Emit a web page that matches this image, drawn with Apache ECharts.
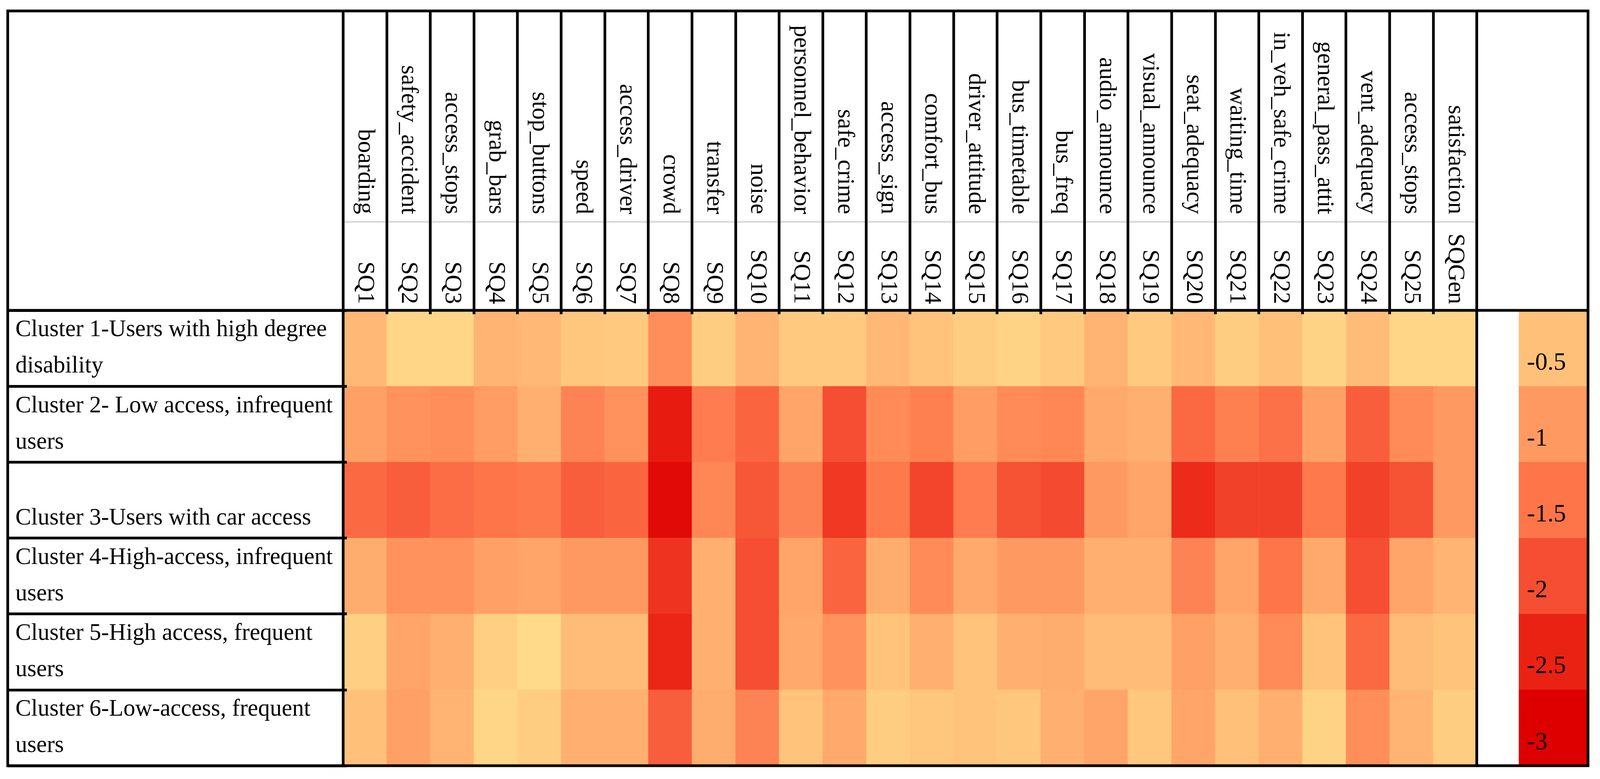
<!DOCTYPE html>
<html><head><meta charset="utf-8">
<script src="https://cdn.jsdelivr.net/npm/echarts@6/dist/echarts.min.js"></script>
<style>html,body{margin:0;padding:0;background:#fff;overflow:hidden}#c{position:absolute;left:0;top:0}</style>
</head><body><div id="c"></div>
<script>
// ---- data ----
const sqCodes = ['SQ1','SQ2','SQ3','SQ4','SQ5','SQ6','SQ7','SQ8','SQ9','SQ10','SQ11','SQ12','SQ13','SQ14','SQ15','SQ16','SQ17','SQ18','SQ19','SQ20','SQ21','SQ22','SQ23','SQ24','SQ25','SQGen'];
const sqNames = ['boarding','safety_accident','access_stops','grab_bars','stop_buttons','speed','access_driver','crowd','transfer','noise','personnel_behavior','safe_crime','access_sign','comfort_bus','driver_attitude','bus_timetable','bus_freq','audio_announce','visual_announce','seat_adequacy','waiting_time','in_veh_safe_crime','general_pass_attit','vent_adequacy','access_stops','satisfaction'];
const clusterLabels = [
  'Cluster 1-Users with high degree\ndisability',
  'Cluster 2- Low access, infrequent\nusers',
  'Cluster 3-Users with car access',
  'Cluster 4-High-access, infrequent\nusers',
  'Cluster 5-High access, frequent\nusers',
  'Cluster 6-Low-access, frequent\nusers'
];
const cluster1 = [-0.6,-0.15,-0.15,-0.65,-0.6,-0.4,-0.35,-1.15,-0.3,-0.65,-0.35,-0.35,-0.6,-0.45,-0.3,-0.2,-0.35,-0.65,-0.35,-0.6,-0.3,-0.5,-0.2,-0.55,-0.15,-0.15];
const cluster2 = [-0.9,-1.1,-1.15,-0.95,-0.7,-1.3,-1.1,-2.6,-1.4,-1.7,-0.85,-2.0,-1.2,-1.35,-0.95,-1.2,-1.25,-0.8,-0.7,-1.65,-1.35,-1.55,-0.9,-1.8,-1.2,-1.0];
const cluster3 = [-1.65,-1.8,-1.6,-1.5,-1.45,-1.8,-1.7,-2.85,-1.25,-1.9,-1.3,-2.25,-1.45,-2.1,-1.4,-1.95,-2.05,-1.0,-0.85,-2.4,-2.15,-2.15,-1.45,-2.15,-1.95,-1.0];
const cluster4 = [-0.75,-1.1,-1.1,-0.9,-0.85,-1.0,-1.0,-2.3,-0.7,-2.0,-0.85,-1.7,-0.75,-1.2,-0.8,-1.0,-1.0,-0.7,-0.7,-1.3,-0.85,-1.5,-0.8,-2.0,-0.85,-0.65];
const cluster5 = [-0.25,-0.85,-0.7,-0.25,-0.1,-0.55,-0.55,-2.45,-0.7,-2.0,-0.8,-1.1,-0.45,-0.7,-0.45,-0.7,-0.75,-0.55,-0.55,-0.9,-0.7,-1.2,-0.45,-1.65,-0.55,-0.45];
const cluster6 = [-0.5,-0.9,-0.65,-0.15,-0.3,-0.7,-0.7,-1.8,-0.75,-1.3,-0.45,-0.8,-0.3,-0.4,-0.45,-0.4,-0.7,-0.85,-0.4,-0.85,-0.5,-0.7,-0.2,-1.15,-0.65,-0.3];
const legendValues = [-0.5,-1,-1.5,-2,-2.5,-3];
const scaleColors = ['#DE0000','#EA2214','#F54E32','#FE754A','#FF9962','#FFC07A','#FFE08E'];

// ---- layout (reference pixel space 4142 x 1993, scaled to the viewport) ----
const REF_W = 4142, REF_H = 1993;
const W = window.innerWidth || REF_W, H = window.innerHeight || REF_H;
const sx = W / REF_W, sy = H / REF_H, s = Math.min(sx, sy);
const X = v => v * sx, Y = v => v * sy, F = v => v * s;
const tL = X(20), tT = Y(28), tR = X(4111), tB = Y(1959);
const headB = Y(794), dataL = X(888), dataR = X(3823), legL = X(3932);
const LW = F(7);
const FONT = "'Liberation Serif', 'Times New Roman', serif";

const el = document.getElementById('c');
el.style.width = W + 'px'; el.style.height = H + 'px';

const rows = [cluster1, cluster2, cluster3, cluster4, cluster5, cluster6];
const heat = [];
rows.forEach((r, yi) => r.forEach((v, xi) => heat.push([xi, yi, v])));
const legendData = legendValues.map((v, i) => [0, i, v]);

const chart = echarts.init(el, null, {width: W, height: H, renderer: 'canvas'});
const black = {color: '#000', width: LW};
const grid0 = {left: dataL, top: headB, width: dataR - dataL, height: tB - headB, outerBoundsMode: 'none', containLabel: false};
const grid1 = {left: legL, top: headB, width: tR - legL, height: tB - headB, outerBoundsMode: 'none', containLabel: false};
const headLabel = m => ({show: true, interval: 0, rotate: 90, margin: Y(m), fontSize: F(62), fontFamily: FONT, color: '#000', padding: [0, 0, F(18), 0]});

chart.setOption({
  backgroundColor: '#fff',
  animation: false,
  grid: [grid0, grid1],
  visualMap: {
    type: 'continuous', show: false, min: -3, max: 0, dimension: 2,
    seriesIndex: [0, 1], inRange: {color: scaleColors}
  },
  xAxis: [
    {
      type: 'category', data: sqCodes, position: 'top', gridIndex: 0, z: 6,
      axisLine: {show: false},
      axisTick: {show: true, interval: 0, length: headB - tT, lineStyle: black},
      axisLabel: headLabel(16), splitLine: {show: false}
    },
    {
      type: 'category', data: sqNames, position: 'top', gridIndex: 0, z: 6,
      axisLine: {show: false}, axisTick: {show: false},
      axisLabel: headLabel(246), splitLine: {show: false}
    },
    {
      type: 'category', data: sqCodes, position: 'top', gridIndex: 0, offset: Y(227), z: 1,
      axisLine: {show: true, lineStyle: {color: '#dcdcdc', width: F(5)}},
      axisTick: {show: false}, axisLabel: {show: false}, splitLine: {show: false}
    },
    {
      type: 'category', data: sqCodes, position: 'top', gridIndex: 0, z: 6,
      axisLine: {show: false},
      axisTick: {show: true, interval: 0, inside: true, length: F(10), lineStyle: black},
      axisLabel: {show: false}, splitLine: {show: false}
    },
    {type: 'category', data: ['scale'], gridIndex: 1, show: false}
  ],
  yAxis: [
    {
      type: 'category', data: clusterLabels, inverse: true, position: 'left', gridIndex: 0, z: 6,
      axisLine: {show: true, lineStyle: black},
      axisTick: {show: true, interval: 0, length: dataL - tL, lineStyle: black},
      axisLabel: {
        show: true, interval: 0, margin: dataL - X(40), align: 'left', verticalAlign: 'middle',
        fontSize: F(61), lineHeight: Y(93), fontFamily: FONT, color: '#000', padding: [0, 0, Y(20), 0],
        formatter: t => (t.indexOf('\n') < 0 ? '\n' + t : t)
      },
      splitLine: {show: false}
    },
    {
      type: 'category', data: clusterLabels, inverse: true, position: 'left', gridIndex: 0, z: 6,
      axisLine: {show: false},
      axisTick: {show: true, interval: 0, inside: true, length: F(10), lineStyle: black},
      axisLabel: {show: false}, splitLine: {show: false}
    },
    {
      type: 'category', data: clusterLabels, inverse: true, position: 'right', gridIndex: 0, z: 6,
      axisLine: {show: true, lineStyle: black},
      axisTick: {show: false}, axisLabel: {show: false}, splitLine: {show: false}
    },
    {type: 'category', data: legendValues.map(String), inverse: true, gridIndex: 1, show: false}
  ],
  series: [
    {
      type: 'heatmap', xAxisIndex: 0, yAxisIndex: 0, data: heat, z: 2,
      itemStyle: {borderWidth: 0}, emphasis: {disabled: true}
    },
    {
      type: 'heatmap', xAxisIndex: 4, yAxisIndex: 3, data: legendData, z: 2,
      itemStyle: {borderWidth: 0}, emphasis: {disabled: true},
      label: {
        show: true, position: 'insideLeft', distance: X(21), offset: [0, Y(38)],
        fontSize: F(64), fontFamily: FONT, color: '#000',
        formatter: p => String(p.value[2])
      }
    }
  ],
  graphic: [
    {type: 'rect', z: 100, shape: {x: tL, y: tT, width: tR - tL, height: tB - tT}, style: {fill: null, stroke: '#000', lineWidth: LW}},
    {type: 'line', z: 100, shape: {x1: tL, y1: headB, x2: tR, y2: headB}, style: {stroke: '#000', lineWidth: LW}},
    {type: 'line', z: 100, shape: {x1: dataR, y1: tT, x2: dataR, y2: tB}, style: {stroke: '#000', lineWidth: LW}}
  ]
});
</script>
</body></html>
